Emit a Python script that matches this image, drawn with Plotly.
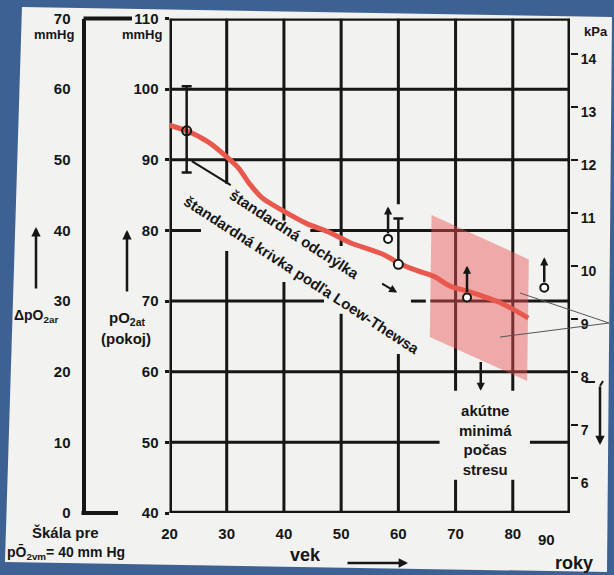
import plotly.graph_objects as go

W, H = 614, 575

# ---------------- data ----------------
# standard curve (Loew-Thews), age in years vs arterial pO2 in mmHg
curve_age = [20.0, 23.0, 26.8, 30.3, 32.1, 33.9, 36.2, 39.8, 43.9, 48.0, 51.5,
             57.4, 60.0, 63.3, 66.2, 69.1, 72.1, 78.0, 82.7]
curve_po2 = [94.9, 94.1, 92.5, 90.2, 88.8, 86.7, 84.6, 82.8, 81.0, 79.7, 78.3,
             76.6, 75.4, 74.3, 73.5, 72.1, 71.4, 69.7, 67.6]

# mean values with standard deviation
mean_age = [23.0, 60.0]
mean_po2 = [94.1, 75.2]
sd_plus = [6.3, 6.5]
sd_minus = [5.9, 0.0]

# values at rest with upward arrows
stress_age = [58.2, 72.0, 85.5]
stress_po2 = [78.8, 70.5, 71.9]
stress_tip = [83.4, 75.0, 76.2]

# downward arrow (acute minima)
drop_age = [74.4]
drop_from = [61.6]
drop_to = [57.3]

# shaded zone of acute minima during stress
zone_age = [65.8, 82.8, 82.5, 65.5]
zone_po2 = [82.2, 75.9, 58.7, 64.9]

# axes
age_ticks = [20, 30, 40, 50, 60, 70, 80, 90]
po2_ticks = [40, 50, 60, 70, 80, 90, 100, 110]
dpo2_ticks = [0, 10, 20, 30, 40, 50, 60, 70]
kpa_ticks = [6, 7, 8, 9, 10, 11, 12, 13, 14]
MMHG_PER_KPA = 7.5

# ---------------- geometry / style ----------------
PL, PR, PT, PB = 169.5, 570.0, 18.5, 513.0
DAX = 83.5

BLACK = "#161616"
RED = "#e8584d"
PINK = "rgba(234,80,80,0.45)"
BLUE = "#3e6193"
PAPER = "#f2f2f0"
NUM = "Liberation Sans, Arial, sans-serif"
TXT = "Liberation Sans, Arial, sans-serif"
NUM_FONT = dict(family=NUM, size=15, color=BLACK, weight="bold")
TXT_FONT = dict(family=TXT, size=15, color=BLACK, weight="bold")


def px(x, y):
    return x / W, 1 - y / H


fig = go.Figure()

# shaded zone
fig.add_trace(go.Scatter(
    x=zone_age + zone_age[:1], y=zone_po2 + zone_po2[:1], mode="lines",
    fill="toself", fillcolor=PINK, line=dict(width=0), hoverinfo="skip"))

# standard curve
fig.add_trace(go.Scatter(
    x=curve_age, y=curve_po2, mode="lines", hoverinfo="skip",
    line=dict(color=RED, width=5, shape="spline", smoothing=0.8)))

# standard deviation bars
fig.add_trace(go.Scatter(
    x=mean_age, y=mean_po2, mode="markers", hoverinfo="skip",
    marker=dict(size=1, color="rgba(0,0,0,0)"),
    error_y=dict(type="data", symmetric=False, array=sd_plus,
                 arrayminus=sd_minus, color=BLACK, thickness=2.5, width=5)))
fig.add_trace(go.Scatter(
    x=mean_age, y=mean_po2, mode="markers", hoverinfo="skip",
    marker=dict(size=9, color=["rgba(0,0,0,0)", "white"],
                line=dict(color=BLACK, width=2))))

# rest values
fig.add_trace(go.Scatter(
    x=stress_age, y=stress_po2, mode="markers", hoverinfo="skip",
    marker=dict(size=8, color="white", line=dict(color=BLACK, width=2))))

# dummy traces to attach the extra axes
fig.add_trace(go.Scatter(x=[20], y=[0], yaxis="y2", mode="markers",
                         marker=dict(size=1, color="rgba(0,0,0,0)"), hoverinfo="skip"))
fig.add_trace(go.Scatter(x=[20], y=[6], yaxis="y3", mode="markers",
                         marker=dict(size=1, color="rgba(0,0,0,0)"), hoverinfo="skip"))

shapes = []
# paper sheet
corners = [(22, 7), (612, 17), (607, 572), (5, 562)]
path = "M " + " L ".join("%.4f,%.4f" % px(x, y) for x, y in corners) + " Z"
shapes.append(dict(type="path", path=path, xref="paper", yref="paper",
                   fillcolor=PAPER, line=dict(width=0), layer="below"))

# grid with gaps (age / mmHg)
hseg = [(110, 20, 90), (100, 20, 90), (90, 20, 90),
        (80, 20, 25.5), (80, 44.6, 90),
        (70, 20, 47.0), (70, 62.2, 64.8), (70, 65.6, 90),
        (60, 20, 90),
        (50, 20, 67.2), (50, 83.0, 90),
        (40, 20, 90)]
vseg = [(20, 40, 110), (90, 40, 110),
        (30, 86.6, 110), (30, 40, 77.1),
        (40, 81.4, 110), (40, 40, 72.7),
        (50, 77.8, 110), (50, 40, 68.2),
        (60, 83.7, 110), (60, 40, 62.5),
        (70, 57.3, 110), (70, 40, 44.7),
        (80, 57.3, 110), (80, 40, 44.7)]
for yv, a0, a1 in hseg:
    wdt = 4.5 if yv in (40, 110) else 3
    shapes.append(dict(type="line", xref="x", yref="y", x0=a0, x1=a1, y0=yv, y1=yv,
                       line=dict(color=BLACK, width=wdt), layer="below"))
for xv, b0, b1 in vseg:
    wdt = 5 if xv in (20, 90) else 3
    shapes.append(dict(type="line", xref="x", yref="y", x0=xv, x1=xv, y0=b0, y1=b1,
                       line=dict(color=BLACK, width=wdt), layer="below"))

# pointer of "standard deviation"
shapes.append(dict(type="line", xref="x", yref="y", x0=23.9, y0=89.8, x1=30.7, y1=86.4,
                   line=dict(color=BLACK, width=2)))

# ends of the delta-pO2 scale
for (x0, y0, x1, y1) in [(DAX, PT, 132, PT), (DAX - 2, PB, 118, PB)]:
    a, b = px(x0, y0)
    c, d = px(x1, y1)
    shapes.append(dict(type="line", xref="paper", yref="paper", x0=a, y0=b, x1=c, y1=d,
                       line=dict(color=BLACK, width=4)))

# thin pointer lines near "9"
for (x0, y0, x1, y1) in [(609, 323, 520, 293), (609, 323, 500, 337)]:
    a, b = px(x0, y0)
    c, d = px(x1, y1)
    shapes.append(dict(type="line", xref="paper", yref="paper", x0=a, y0=b, x1=c, y1=d,
                       line=dict(color="#555555", width=1)))

# dash after "8" and hook of the right arrow
for (x0, y0, x1, y1) in [(585, 382, 595, 382), (600, 386, 603, 381)]:
    a, b = px(x0, y0)
    c, d = px(x1, y1)
    shapes.append(dict(type="line", xref="paper", yref="paper", x0=a, y0=b, x1=c, y1=d,
                       line=dict(color=BLACK, width=2)))

annotations = []

# arrows of rest values
for a, p0, p1 in zip(stress_age, stress_po2, stress_tip):
    annotations.append(dict(x=a, y=p1, ax=a, ay=p0, xref="x", yref="y", axref="x", ayref="y",
                            text="", showarrow=True, arrowhead=2, arrowsize=0.65,
                            arrowwidth=2.5, arrowcolor=BLACK, startstandoff=4))
for a, p0, p1 in zip(drop_age, drop_from, drop_to):
    annotations.append(dict(x=a, y=p1, ax=a, ay=p0, xref="x", yref="y", axref="x", ayref="y",
                            text="", showarrow=True, arrowhead=2, arrowsize=0.65,
                            arrowwidth=2.5, arrowcolor=BLACK))
# small arrow after "odchýlka"
annotations.append(dict(x=59.8, y=71.2, ax=56.9, ay=72.6, xref="x", yref="y", axref="x",
                        ayref="y", text="", showarrow=True, arrowhead=2, arrowsize=0.8,
                        arrowwidth=2, arrowcolor=BLACK))

# rotated texts
annotations.append(dict(x=41.9, y=79.4, xref="x", yref="y", text="štandardná odchýlka",
                        showarrow=False, textangle=33, font=TXT_FONT))
annotations.append(dict(x=43.0, y=73.7, xref="x", yref="y",
                        text="štandardná krivka podľa Loew-Thewsa",
                        showarrow=False, textangle=33, font=TXT_FONT))
annotations.append(dict(x=75.3, y=50.3, xref="x", yref="y",
                        text="akútne<br>minimá<br>počas<br>stresu",
                        showarrow=False, font=TXT_FONT, align="center"))


def note(x, y, text, size=15, xanchor="center", family=TXT):
    a, b = px(x, y)
    annotations.append(dict(x=a, y=b, xref="paper", yref="paper", text=text, showarrow=False,
                            xanchor=xanchor, yanchor="middle",
                            font=dict(family=family, size=size, color=BLACK, weight="bold")))


def arrow(x, y, dx, dy):
    a, b = px(x, y)
    annotations.append(dict(x=a, y=b, xref="paper", yref="paper", ax=dx, ay=dy,
                            axref="pixel", ayref="pixel", text="", showarrow=True,
                            arrowhead=2, arrowsize=0.75, arrowwidth=2.5, arrowcolor=BLACK))


note(77, 35, "mmHg", 13, "right", NUM)
note(165, 35, "mmHg", 13, "right", NUM)
note(596, 31, "kPa", 13, "center", NUM)
arrow(36, 227, 0, 63)
note(36, 316, "ΔpO<sub>2ar</sub>", 14)
arrow(127, 230, 0, 63)
note(127, 318, "pO<sub>2at</sub>", 15)
note(126, 339, "(pokoj)", 15)
note(30, 532, "Škála pre", 15, "left")
note(5, 552, "pŌ<sub>2vm</sub>= 40 mm Hg", 14, "left")
note(546, 539, str(age_ticks[-1]), 15, "center", NUM)
note(305, 555, "vek", 18)
arrow(408, 563, -62, 0)
note(574, 563, "roky", 18)
arrow(600, 445, 0, -60)

fig.update_layout(
    width=W, height=H, margin=dict(l=0, r=0, t=0, b=0, autoexpand=False),
    paper_bgcolor=BLUE, plot_bgcolor="rgba(0,0,0,0)", showlegend=False,
    hovermode=False, shapes=shapes, annotations=annotations,
    xaxis=dict(domain=[PL / W, PR / W], range=[20, 90], tickvals=age_ticks[:-1],
               showgrid=False, zeroline=False, showline=False, ticks="",
               tickfont=NUM_FONT, ticklabelstandoff=10, fixedrange=True, automargin=False),
    yaxis=dict(domain=[1 - PB / H, 1 - PT / H], range=[40, 110], tickvals=po2_ticks,
               showgrid=False, zeroline=False, showline=False, ticks="outside",
               ticklen=4, tickwidth=3, tickcolor=BLACK, tickfont=NUM_FONT,
               ticklabelstandoff=3, fixedrange=True, automargin=False),
    yaxis2=dict(overlaying="y", anchor="free", position=DAX / W, side="left",
                range=[0, 70], tickvals=dpo2_ticks, showgrid=False, zeroline=False,
                showline=True, linewidth=4, linecolor=BLACK, ticks="",
                tickfont=NUM_FONT, ticklabelstandoff=8, fixedrange=True, automargin=False),
    yaxis3=dict(overlaying="y", anchor="x", side="right",
                range=[po2_ticks[0] / MMHG_PER_KPA, po2_ticks[-1] / MMHG_PER_KPA],
                tickvals=kpa_ticks, showgrid=False, zeroline=False, showline=False,
                ticks="outside", ticklen=7, tickwidth=2, tickcolor=BLACK,
                tickfont=dict(family=NUM, size=14, color=BLACK, weight="bold"),
                ticklabelshift=5, fixedrange=True, automargin=False),
)

fig.write_html("out.html", config={"displayModeBar": False},
               post_script="document.body.style.margin='0px';document.body.style.padding='0px';")
